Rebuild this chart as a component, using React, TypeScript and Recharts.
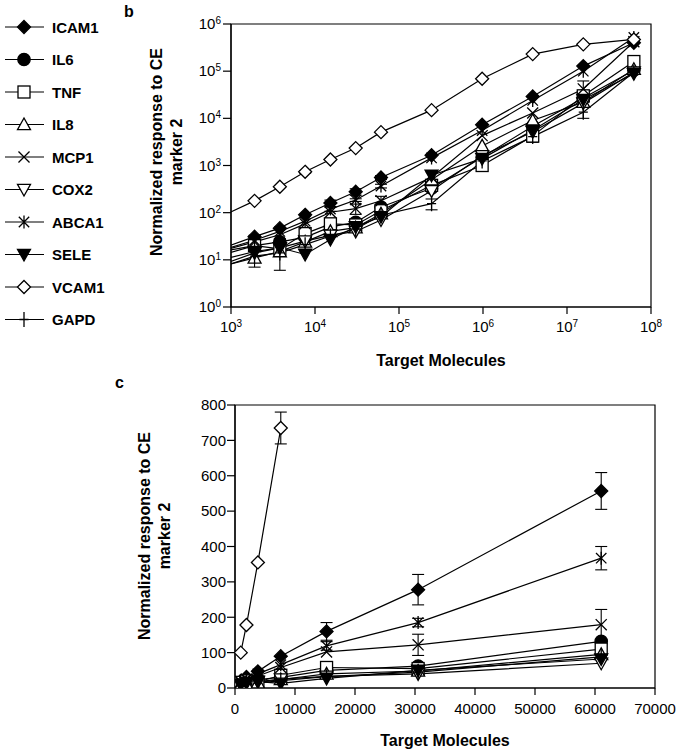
import React from 'react';
import { LineChart, Line, XAxis, YAxis, ErrorBar, ReferenceArea, Label } from 'recharts';

const FONT = '"Liberation Sans", Arial, Helvetica, sans-serif';

// target molecules per reaction (2-fold steps, then 4-fold steps)
const targets = [954, 1907, 3815, 7629, 15259, 30518, 61035, 244141, 976563, 3906250, 15625000, 62500000];

const icam1 = [20, 31, 47, 90, 160, 278, 557, 1650, 7300, 29000, 128000, 400000];
const il6 = [14, 20, 24, 30, 50, 62, 132, 330, 1500, 6800, 27000, 105000];
const tnf = [16, 20, 17, 36, 58, 55, 110, 380, 1000, 4200, 30000, 160000];
const il8 = [8, 11, 15, 24, 40, 48, 95, 500, 2600, 9000, 22000, 110000];
const mcp1 = [17, 24, 34, 58, 102, 122, 179, 560, 4300, 13000, 42000, 420000];
const cox2 = [9, 14, 18, 25, 33, 40, 70, 290, 1600, 5200, 21000, 95000];
const abca1 = [18, 26, 40, 66, 119, 185, 367, 1450, 5500, 24000, 100000, 520000];
const sele = [11, 15, 18, 13, 27, 50, 82, 620, 1400, 5600, 25000, 88000];
const vcam1 = [100, 178, 355, 735, 1340, 2340, 5100, 14900, 69000, 230000, 370000, 470000];
const gapd = [8, 12, 14, 21, 32, 45, 88, 155, 1250, 4100, 13500, 95000];

// error bars (0 = none drawn)
const icam1Err = [0, 0, 0, 0, 25, 43, 52, 0, 0, 0, 0, 0];
const abca1Err = [0, 0, 0, 0, 12, 12, 33, 0, 0, 0, 0, 0];
const mcp1Err = [0, 0, 0, 0, 0, 30, 43, 0, 0, 0, 20000, 0];
const vcam1Err = [0, 0, 0, 45, 0, 0, 0, 0, 0, 0, 0, 0];
const tnfErr = [0, 13, 11, 0, 0, 0, 0, 0, 0, 0, 0, 0];
const gapdErr = [0, 0, 0, 0, 0, 0, 0, 40, 0, 1000, 3500, 0];

const logXTicks = [1e3, 1e4, 1e5, 1e6, 1e7, 1e8];
const logYTicks = [1, 10, 100, 1e3, 1e4, 1e5, 1e6];
const linXTicks = [0, 10000, 20000, 30000, 40000, 50000, 60000, 70000];
const linYTicks = [0, 100, 200, 300, 400, 500, 600, 700, 800];

type Gene = { name: string; values: number[]; err?: number[]; shape: string; filled?: boolean };

const genes: Gene[] = [
  { name: 'ICAM1', values: icam1, err: icam1Err, shape: 'diamond', filled: true },
  { name: 'IL6', values: il6, shape: 'circle', filled: true },
  { name: 'TNF', values: tnf, err: tnfErr, shape: 'square' },
  { name: 'IL8', values: il8, shape: 'triangle' },
  { name: 'MCP1', values: mcp1, err: mcp1Err, shape: 'cross' },
  { name: 'COX2', values: cox2, shape: 'triangleDown' },
  { name: 'ABCA1', values: abca1, err: abca1Err, shape: 'asterisk' },
  { name: 'SELE', values: sele, shape: 'triangleDown', filled: true },
  { name: 'VCAM1', values: vcam1, err: vcam1Err, shape: 'diamond' },
  { name: 'GAPD', values: gapd, err: gapdErr, shape: 'plus' },
];

const rowsB = targets.map((x, i) => {
  const row: any = { x };
  genes.forEach((g) => {
    row[g.name] = g.values[i];
    if (g.err) row[g.name + '_err'] = g.err[i] || null;
  });
  return row;
});

// panel c: linear scale, only the low end; values above 800 are off the plot
const rowsC = rowsB
  .filter((r) => r.x <= 70000)
  .map((r) => {
    const row: any = { ...r };
    genes.forEach((g) => {
      if (row[g.name] > 800) row[g.name] = null;
    });
    return row;
  });

const Marker = ({ shape, filled, cx, cy, size = 13 }: any) => {
  const h = size / 2;
  const common = { stroke: '#000', strokeWidth: 1.3, fill: filled ? '#000' : '#fff' };
  switch (shape) {
    case 'diamond':
      return <polygon {...common} points={`${cx},${cy - h} ${cx + h},${cy} ${cx},${cy + h} ${cx - h},${cy}`} />;
    case 'circle':
      return <circle {...common} cx={cx} cy={cy} r={h - 0.3} />;
    case 'square':
      return <rect {...common} x={cx - h + 0.5} y={cy - h + 0.5} width={size - 1} height={size - 1} />;
    case 'triangle':
      return <polygon {...common} points={`${cx},${cy - h} ${cx + h},${cy + h * 0.8} ${cx - h},${cy + h * 0.8}`} />;
    case 'triangleDown':
      return <polygon {...common} points={`${cx},${cy + h} ${cx + h},${cy - h * 0.8} ${cx - h},${cy - h * 0.8}`} />;
    case 'cross': {
      const d = h * 0.85;
      return <path {...common} fill="none" d={`M${cx - d},${cy - d}L${cx + d},${cy + d}M${cx - d},${cy + d}L${cx + d},${cy - d}`} />;
    }
    case 'asterisk': {
      const d = h * 0.8;
      return (
        <path
          {...common}
          fill="none"
          d={`M${cx - d},${cy - d}L${cx + d},${cy + d}M${cx - d},${cy + d}L${cx + d},${cy - d}M${cx},${cy - h}L${cx},${cy + h}`}
        />
      );
    }
    case 'plus':
      return <path {...common} fill="none" d={`M${cx},${cy - h - 1}L${cx},${cy + h + 1}M${cx - h * 0.7},${cy}L${cx + h * 0.7},${cy}`} />;
    default:
      return null;
  }
};

const makeDot = (g: Gene, minX: number) => (p: any) => {
  const key = `${g.name}-${p.index}`;
  if (p.cx == null || p.cy == null || p.value == null || p.payload.x < minX) return <g key={key} />;
  return (
    <g key={key}>
      <Marker shape={g.shape} filled={g.filled} cx={p.cx} cy={p.cy} />
    </g>
  );
};

const XPowTick = ({ x, y, payload }: any) => (
  <text x={x} y={y + 15} textAnchor="middle" fontFamily={FONT} fontSize={15} fill="#000">
    10<tspan dy={-5} fontSize={10}>{Math.round(Math.log10(payload.value))}</tspan>
  </text>
);

const YPowTick = ({ x, y, payload }: any) => (
  <text x={x} y={y + 5} textAnchor="end" fontFamily={FONT} fontSize={15} fill="#000">
    10<tspan dy={-5} fontSize={10}>{Math.round(Math.log10(payload.value))}</tspan>
  </text>
);

const YTitle = (x1: number, x2: number, cy: number) => () => (
  <g fontFamily={FONT} fontWeight="bold" fontSize={16} fill="#000">
    <text x={x1} y={cy} textAnchor="middle" transform={`rotate(-90 ${x1} ${cy})`}>
      Normalized response to CE
    </text>
    <text x={x2} y={cy} textAnchor="middle" transform={`rotate(-90 ${x2} ${cy})`}>
      marker 2
    </text>
  </g>
);

const XTitle = (cx: number, y: number) => () => (
  <text x={cx} y={y} textAnchor="middle" fontFamily={FONT} fontWeight="bold" fontSize={16} fill="#000">
    Target Molecules
  </text>
);

const seriesLines = (minX: number) =>
  genes.map((g) => (
    <Line
      key={g.name}
      type="linear"
      dataKey={g.name}
      stroke="#000"
      strokeWidth={1.2}
      dot={makeDot(g, minX)}
      activeDot={false}
      isAnimationActive={false}
    >
      {g.err && (
        <ErrorBar dataKey={g.name + '_err'} direction="y" width={6} stroke="#000" strokeWidth={1.1} isAnimationActive={false} />
      )}
    </Line>
  ));

const Legend = () => (
  <svg width={140} height={400} style={{ position: 'absolute', left: 0, top: 0 }}>
    {genes.map((g, i) => {
      const y = 27 + i * 32.5;
      return (
        <g key={g.name}>
          <line x1={5} x2={44} y1={y} y2={y} stroke="#000" strokeWidth={1.2} />
          <Marker shape={g.shape} filled={g.filled} cx={24} cy={y} />
          <text x={52} y={y + 5.5} fontFamily={FONT} fontWeight="bold" fontSize={15} fill="#000">
            {g.name}
          </text>
        </g>
      );
    })}
    <text x={124} y={17} fontFamily={FONT} fontWeight="bold" fontSize={16}>b</text>
    <text x={115} y={388} fontFamily={FONT} fontWeight="bold" fontSize={16}>c</text>
  </svg>
);

export default function App() {
  return (
    <div style={{ position: 'absolute', left: 0, top: 0, width: 678, height: 752, background: '#fff' }}>
      <div style={{ position: 'absolute', left: 0, top: 0 }}>
        <LineChart width={678} height={380} data={rowsB} margin={{ top: 24, right: 27, bottom: 43, left: 131 }}>
          <XAxis
            dataKey="x"
            type="number"
            scale="log"
            domain={[1e3, 1e8]}
            ticks={logXTicks}
            interval={0}
            allowDataOverflow
            height={30}
            tickSize={7}
            tickMargin={3}
            stroke="#000"
            strokeWidth={1.2}
            tick={<XPowTick />}
          >
            <Label content={XTitle(441, 366)} />
          </XAxis>
          <YAxis
            type="number"
            scale="log"
            domain={[1, 1e6]}
            ticks={logYTicks}
            interval={0}
            allowDataOverflow
            width={100}
            tickSize={8}
            tickMargin={2}
            stroke="#000"
            strokeWidth={1.2}
            tick={<YPowTick />}
          >
            <Label content={YTitle(162, 182, 152)} />
          </YAxis>
          <ReferenceArea x1={1e3} x2={1e8} y1={1} y2={1e6} fill="none" stroke="#000" strokeWidth={1.2} />
          {seriesLines(1e3)}
        </LineChart>
      </div>
      <div style={{ position: 'absolute', left: 0, top: 380 }}>
        <LineChart width={678} height={372} data={rowsC} margin={{ top: 25, right: 23, bottom: 34, left: 135 }}>
          <XAxis
            dataKey="x"
            type="number"
            domain={[0, 70000]}
            ticks={linXTicks}
            interval={0}
            allowDataOverflow
            height={30}
            tickSize={7}
            tickMargin={8}
            stroke="#000"
            strokeWidth={1.2}
            tick={{ fill: '#000', fontSize: 15, fontFamily: FONT }}
          >
            <Label content={XTitle(445, 366)} />
          </XAxis>
          <YAxis
            type="number"
            domain={[0, 800]}
            ticks={linYTicks}
            interval={0}
            allowDataOverflow
            width={100}
            tickSize={8}
            tickMargin={1}
            stroke="#000"
            strokeWidth={1.2}
            tick={{ fill: '#000', fontSize: 15, fontFamily: FONT }}
          >
            <Label content={YTitle(150, 170, 156)} />
          </YAxis>
          <ReferenceArea x1={0} x2={70000} y1={0} y2={800} fill="none" stroke="#000" strokeWidth={1.2} />
          {seriesLines(0)}
        </LineChart>
      </div>
      <Legend />
    </div>
  );
}
